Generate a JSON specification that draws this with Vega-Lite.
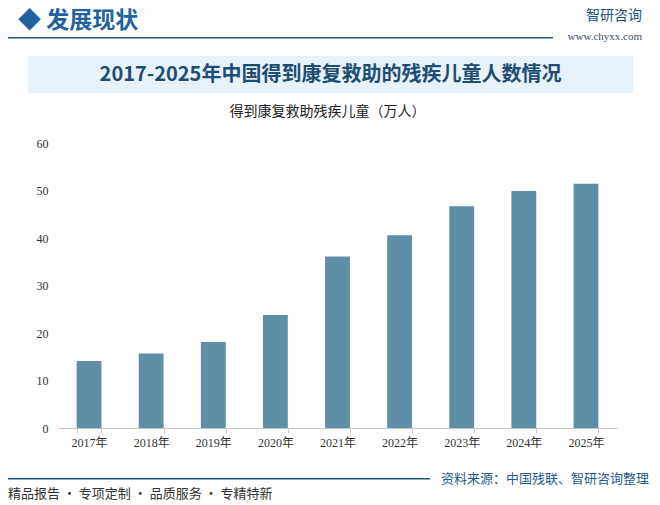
{
  "$schema": "https://vega.github.io/schema/vega-lite/v6.json",
  "background": "white",
  "padding": {"left": 8, "top": 9, "right": 8, "bottom": 4},
  "spacing": 0,
  "config": {
    "view": {"stroke": null},
    "font": "Noto Sans CJK SC",
    "concat": {"spacing": 0}
  },
  "vconcat": [
    {
      "bounds": "flush",
      "spacing": 0,
      "hconcat": [
        {
          "width": 545,
          "height": 1.5,
          "view": {"fill": "#1f5b87", "stroke": null},
          "title": {"text": "◆  发展现状", "anchor": "start", "fontSize": 23, "fontWeight": "bold", "color": "#1f62a0", "offset": 4, "dx": 10},
          "data": {"values": []},
          "mark": "point"
        },
        {"width": 12, "height": 1, "data": {"values": []}, "mark": "point"},
        {
          "width": 77,
          "height": 18.5,
          "title": {
            "text": "智研咨询",
            "subtitle": "www.chyxx.com",
            "anchor": "end",
            "fontSize": 14,
            "fontWeight": "normal",
            "color": "#1d4f80",
            "subtitleFont": "Liberation Serif",
            "subtitleFontSize": 11,
            "subtitleColor": "#3d4f66",
            "subtitlePadding": 8,
            "offset": -5
          },
          "data": {"values": []},
          "mark": "point"
        }
      ]
    },
    {
      "bounds": "flush",
      "spacing": 0,
      "hconcat": [
        {"width": 20, "height": 49, "data": {"values": []}, "mark": "point"},
        {
          "width": 605,
          "height": 37,
          "view": {"fill": "#e7f2fa", "stroke": null},
          "data": {"values": [{"title": "2017-2025年中国得到康复救助的残疾儿童人数情况"}]},
          "mark": {"type": "text", "fontSize": 20, "fontWeight": "bold", "color": "#1e4d74", "baseline": "middle", "align": "center"},
          "encoding": {"text": {"field": "title", "type": "nominal"}}
        }
      ]
    },
    {
      "bounds": "flush",
      "spacing": 0,
      "hconcat": [
        {"width": 50, "height": 329, "data": {"values": []}, "mark": "point"},
        {
          "width": 559,
          "height": 285,
          "title": {"text": "得到康复救助残疾儿童（万人）", "fontSize": 14, "fontWeight": "normal", "color": "#222222", "offset": 18, "anchor": "middle", "dx": -10},
          "data": {
            "values": [
              {"year": "2017年", "children": 14.1},
              {"year": "2018年", "children": 15.7},
              {"year": "2019年", "children": 18.1},
              {"year": "2020年", "children": 23.8},
              {"year": "2021年", "children": 36.1},
              {"year": "2022年", "children": 40.6},
              {"year": "2023年", "children": 46.7},
              {"year": "2024年", "children": 49.9},
              {"year": "2025年", "children": 51.4}
            ]
          },
          "mark": {"type": "bar", "color": "#5e8fa6"},
          "encoding": {
            "x": {
              "field": "year",
              "type": "nominal",
              "sort": null,
              "scale": {"paddingInner": 0.6, "paddingOuter": 0.3},
              "axis": {
                "title": null,
                "labelAngle": 0,
                "labelFont": "Liberation Serif, Noto Sans CJK SC",
                "labelFontSize": 12,
                "labelColor": "#333333",
                "labelPadding": 4,
                "domainColor": "#c8c8c8",
                "tickColor": "#c8c8c8",
                "tickSize": 5,
                "tickBand": "extent"
              }
            },
            "y": {
              "field": "children",
              "type": "quantitative",
              "scale": {"domain": [0, 60], "nice": false},
              "axis": {
                "title": null,
                "values": [0, 10, 20, 30, 40, 50, 60],
                "domain": false,
                "ticks": false,
                "grid": false,
                "labelFont": "Liberation Serif",
                "labelFontSize": 12,
                "labelColor": "#333333",
                "labelPadding": 10
              }
            }
          }
        }
      ]
    },
    {
      "bounds": "flush",
      "spacing": 0,
      "hconcat": [
        {
          "width": 422,
          "height": 1.5,
          "view": {"fill": "#1f5b87", "stroke": null},
          "title": {"text": "精品报告 · 专项定制 · 品质服务 · 专精特新", "orient": "bottom", "anchor": "start", "fontSize": 13, "fontWeight": "normal", "color": "#333333", "offset": 8},
          "data": {"values": []},
          "mark": "point"
        },
        {
          "width": 230,
          "height": 1,
          "data": {"values": [{"source": "资料来源：中国残联、智研咨询整理"}]},
          "mark": {"type": "text", "fontSize": 13, "color": "#1f5b8a", "baseline": "middle", "align": "center"},
          "encoding": {"text": {"field": "source", "type": "nominal"}}
        }
      ]
    }
  ]
}
